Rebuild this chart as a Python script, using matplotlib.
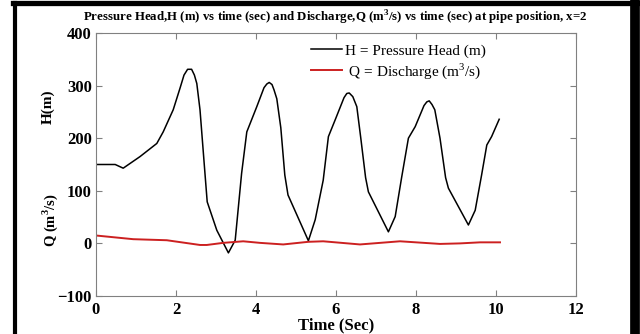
import numpy as np
import matplotlib
matplotlib.use('Agg')
import matplotlib.pyplot as plt
from matplotlib.lines import Line2D

# fonts: Times-like look
plt.rcParams['font.family'] = ['Liberation Serif', 'DejaVu Serif']
plt.rcParams['mathtext.fontset'] = 'custom'
plt.rcParams['mathtext.rm'] = 'Liberation Serif'
plt.rcParams['mathtext.bf'] = 'Liberation Serif:bold'

# data
t_head = [0, 0.1, 0.48, 0.68, 1.1, 1.52, 1.68, 1.93, 2.1, 2.2, 2.29, 2.39, 2.46, 2.52, 2.6, 2.72, 2.78,
          3.02, 3.31, 3.48, 3.64, 3.77, 4.02, 4.2, 4.27, 4.33, 4.4, 4.45, 4.52, 4.62, 4.72, 4.8,
          5.31, 5.48, 5.68, 5.81, 5.98, 6.2, 6.27, 6.33, 6.42, 6.52, 6.62, 6.74, 6.81,
          7.31, 7.48, 7.64, 7.81, 7.98, 8.2, 8.27, 8.33, 8.4, 8.47, 8.6, 8.74, 8.81,
          9.31, 9.48, 9.64, 9.77, 9.89, 10.08]
head = [150, 150, 150, 143, 165, 190, 212, 254, 295, 320, 331, 331, 320, 304, 254, 137, 79,
        25, -18, 6, 133, 212, 260, 296, 303, 306, 302, 292, 275, 220, 130, 92,
        5, 45, 120, 203, 235, 277, 285, 286, 279, 260, 200, 125, 98,
        22, 51, 125, 200, 222, 262, 269, 271, 264, 254, 200, 125, 105,
        35, 63, 130, 187, 203, 236]

t_dis = [0, 0.93, 1.77, 2.6, 2.77, 3.18, 3.68, 4.1, 4.68, 5.31, 5.68, 6.6, 7.6, 8.6, 9.1, 9.6, 10.1]
discharge = [15, 8, 6, -3, -3, 1, 4, 1, -2, 3, 4, -2, 4, -1, 0, 2, 2]

xticks = [0, 2, 4, 6, 8, 10, 12]
yticks = [-100, 0, 100, 200, 300, 400]

fig = plt.figure(figsize=(6.4, 3.34), dpi=100)
ax = fig.add_axes([0.15, 0.1138, 0.75, 0.7874])

ax.plot(t_head, head, color='black', lw=1.1, label='H = Pressure Head (m)')
ax.plot(t_dis, discharge, color='#cc2020', lw=1.4, label=r' Q = Discharge (m$^3$/s)')

ax.set_xlim(0, 12)
ax.set_ylim(-100, 400)
ax.set_xticks(xticks)
ax.set_yticks(yticks)
ax.tick_params(direction='in', top=True, right=True, length=4, color='#808080', width=0.8)
ax.tick_params(axis='x', pad=4)
ax.tick_params(axis='y', pad=3)
for lab in ax.get_xticklabels() + ax.get_yticklabels():
    lab.set_fontweight('bold')
    lab.set_fontsize(12)
for s in ax.spines.values():
    s.set_color('#808080')
    s.set_linewidth(0.8)

ax.set_xlabel('Time (Sec)', fontsize=12, fontweight='bold', labelpad=0)

fig.text(48 / 640, 1 - 107 / 334, 'H(m)', rotation=90, ha='center', va='center',
         fontsize=11, fontweight='bold')
fig.text(50 / 640, 1 - 220 / 334, r'Q (m$^\mathbf{3}$/s)', rotation=90, ha='center', va='center',
         fontsize=10.5, fontweight='bold')

fig.text(335 / 640, 1 - 18 / 334,
         r'Pressure Head,H (m) vs time (sec) and Discharge,Q (m$^\mathbf{3}$/s) vs time (sec) at pipe position, x=2',
         ha='center', va='center', fontsize=9.3, fontweight='bold')

ax.legend(loc='upper left', bbox_to_anchor=(311 / 640, 1 - 44 / 334), bbox_transform=fig.transFigure,
          frameon=False, fontsize=11, handlelength=2.0, handletextpad=0.25,
          borderpad=0, borderaxespad=0, labelspacing=0.2)

# black frame around the picture
fig.add_artist(Line2D([15 / 640, 15 / 640], [-0.1, 1 - 2.5 / 334], color='black', lw=3,
                      transform=fig.transFigure))
fig.add_artist(Line2D([13 / 640, 640 / 640], [1 - 2.5 / 334, 1 - 2.5 / 334], color='black', lw=3.8,
                      transform=fig.transFigure))
fig.add_artist(Line2D([635 / 640, 635 / 640], [-0.1, 1], color='black', lw=7,
                      transform=fig.transFigure))

fig.savefig('out.png', dpi=100)
